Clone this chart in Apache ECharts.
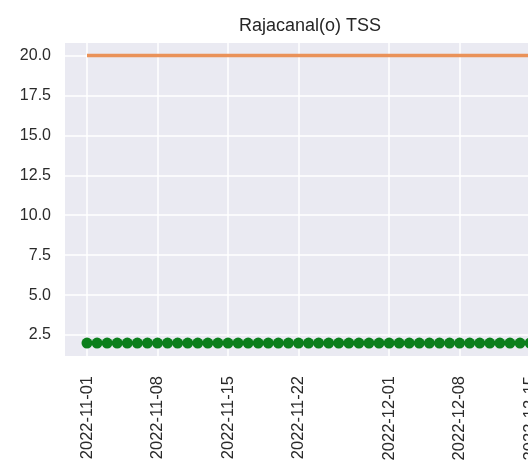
<!DOCTYPE html>
<html>
<head>
<meta charset="utf-8">
<script src="https://cdn.jsdelivr.net/npm/echarts@6/dist/echarts.min.js"></script>
<style>html,body{margin:0;padding:0;background:#fff}#c{width:528px;height:472px}</style>
</head>
<body>
<div id="c"></div>
<script>
const dates = [
  '2022-11-01','2022-11-02','2022-11-03','2022-11-04','2022-11-05','2022-11-06','2022-11-07',
  '2022-11-08','2022-11-09','2022-11-10','2022-11-11','2022-11-12','2022-11-13','2022-11-14',
  '2022-11-15','2022-11-16','2022-11-17','2022-11-18','2022-11-19','2022-11-20','2022-11-21',
  '2022-11-22','2022-11-23','2022-11-24','2022-11-25','2022-11-26','2022-11-27','2022-11-28',
  '2022-11-29','2022-11-30','2022-12-01','2022-12-02','2022-12-03','2022-12-04','2022-12-05',
  '2022-12-06','2022-12-07','2022-12-08','2022-12-09','2022-12-10','2022-12-11','2022-12-12',
  '2022-12-13','2022-12-14','2022-12-15','2022-12-16'
];
const tssValues = [
  2,2,2,2,2,2,2, 2,2,2,2,2,2,2, 2,2,2,2,2,2,2, 2,2,2,2,2,2,2,
  2,2,2,2,2,2,2, 2,2,2,2,2,2,2, 2,2,2,2
];
const limitValues = [
  20,20,20,20,20,20,20, 20,20,20,20,20,20,20, 20,20,20,20,20,20,20, 20,20,20,20,20,20,20,
  20,20,20,20,20,20,20, 20,20,20,20,20,20,20, 20,20,20,20
];
const xTickLabels = ['2022-11-01','2022-11-08','2022-11-15','2022-11-22','2022-12-01','2022-12-08','2022-12-15'];
const yTickLabels = [2.5, 5.0, 7.5, 10.0, 12.5, 15.0, 17.5, 20.0];

const DAY = 86400000;
const ts = s => new Date(s + 'T00:00:00Z').getTime();
const fmt = v => new Date(v).toISOString().slice(0, 10);
const xMin = ts('2022-11-01') - 2.185 * DAY;
const gridW = 600;
const xMax = xMin + gridW / 10.07 * DAY;
const xTicks = xTickLabels.map(ts);

const chart = echarts.init(document.getElementById('c'), null, {renderer: 'canvas'});
chart.setOption({
  animation: false,
  backgroundColor: '#ffffff',
  title: {
    text: 'Rajacanal(o) TSS',
    left: 234, top: 12,
    textStyle: {fontFamily: 'Liberation Sans, Arial', fontSize: 18, fontWeight: 'normal', color: '#262626'}
  },
  grid: {left: 65, top: 43, width: gridW, height: 313, backgroundColor: '#eaeaf2', show: true, borderWidth: 0,
         outerBoundsMode: 'none', containLabel: false},
  xAxis: {
    type: 'value', min: xMin, max: xMax,
    axisLine: {show: false},
    axisTick: {show: false, customValues: xTicks},
    splitLine: {show: true, lineStyle: {color: '#ffffff', width: 1.5}},
    axisLabel: {
      customValues: xTicks, rotate: 90, margin: 20,
      fontFamily: 'Liberation Sans, Arial', fontSize: 16.5, color: '#2a2a2a',
      formatter: v => fmt(v)
    }
  },
  yAxis: {
    type: 'value', min: 1.19, max: 20.78,
    axisLine: {show: false},
    axisTick: {show: false, customValues: yTickLabels},
    splitLine: {show: true, lineStyle: {color: '#ffffff', width: 1.5}},
    axisLabel: {
      customValues: yTickLabels, margin: 14,
      fontFamily: 'Liberation Sans, Arial', fontSize: 16, color: '#2a2a2a',
      formatter: v => v.toFixed(1)
    }
  },
  series: [
    {
      type: 'line', name: 'limit',
      data: dates.map((d, i) => [ts(d), limitValues[i]]),
      showSymbol: false, symbol: 'none',
      lineStyle: {color: '#ea9259', width: 3.5}
    },
    {
      type: 'line', name: 'TSS',
      data: dates.map((d, i) => [ts(d), tssValues[i]]),
      symbol: 'circle', symbolSize: 11, showSymbol: true,
      itemStyle: {color: '#0c7f1c'},
      lineStyle: {color: '#1f6e5e', width: 3},
      z: 3
    }
  ]
});
</script>
</body>
</html>
